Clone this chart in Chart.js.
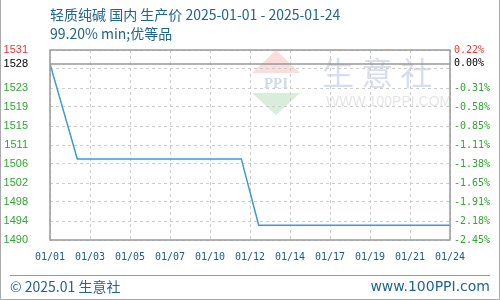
<!DOCTYPE html>
<html>
<head>
<meta charset="utf-8">
<script src="https://cdn.jsdelivr.net/npm/chart.js@4"></script>
<style>
  html, body { margin: 0; padding: 0; background: #fff; }
  #wrap { width: 500px; height: 300px; }
</style>
</head>
<body>
<div id="wrap"><canvas id="priceChart" width="500" height="300"></canvas></div>
<script>
// day of month (Jan 2025) and price
const days = [1, 2.57, 12, 13, 24];
const prices = [1528, 1507.5, 1507.5, 1493.2, 1493.2];
const basePrice = 1528;

const yMin = 1490;
const yMax = 1531;
const leftLabels = ['1490', '1494', '1498', '1502', '1506', '1511', '1515', '1519', '1523', '', '1531'];
const rightLabels = ['-2.45%', '-2.18%', '-1.91%', '-1.65%', '-1.38%', '-1.11%', '-0.85%', '-0.58%', '-0.31%', '', '0.22%'];
const baseLeftLabel = '1528';
const baseRightLabel = '0.00%';

const xMin = 1;
const xMax = 24;
const xLabels = ['01/01', '01/03', '01/05', '01/07', '01/10', '01/12', '01/14', '01/17', '01/19', '01/21', '01/24'];

const titleText = '轻质纯碱 国内 生产价 2025-01-01 - 2025-01-24';
const subTitleText = '99.20% min;优等品';
const footLeft = '© 2025.01 生意社';
const footRight = 'www.100PPI.com';

const GREEN = '#2fa82f';
const RED = '#ff3030';
const BLUE_TXT = '#1f6496';

function yTicks(scale) {
    const step = (yMax - yMin) / (leftLabels.length - 1);
    scale.ticks = leftLabels.map(function (_, i) { return { value: yMin + i * step }; });
    scale.ticks.push({ value: basePrice });
}

function tickColor(c) {
    if (!c.tick) return GREEN;
    if (c.tick.value === basePrice) return '#000';
    if (c.tick.value === yMax) return RED;
    return GREEN;
}

const decor = {
    id: 'decor',
    beforeDraw: function (chart) {
        const ctx = chart.ctx;
        ctx.save();
        ctx.fillStyle = '#fff';
        ctx.fillRect(0, 0, chart.width, chart.height);

        // faint watermark
        ctx.fillStyle = 'rgba(240,160,160,0.35)';
        ctx.beginPath();
        ctx.moveTo(276, 50); ctx.lineTo(300, 73); ctx.lineTo(252, 73);
        ctx.closePath(); ctx.fill();
        ctx.fillStyle = 'rgba(150,200,150,0.35)';
        ctx.beginPath();
        ctx.moveTo(252, 93); ctx.lineTo(300, 93); ctx.lineTo(276, 115);
        ctx.closePath(); ctx.fill();
        ctx.fillStyle = 'rgba(120,150,200,0.35)';
        ctx.font = 'bold 15px "Liberation Serif"';
        ctx.textAlign = 'center';
        ctx.textBaseline = 'middle';
        ctx.fillText('PPI', 276, 84);
        ctx.fillStyle = 'rgba(140,160,200,0.35)';
        ctx.font = '32px "Noto Sans CJK SC"';
        ctx.textAlign = 'left';
        ctx.fillText('生 意 社', 322, 73);
        ctx.fillStyle = 'rgba(170,170,170,0.3)';
        ctx.font = '14px "Liberation Sans"';
        ctx.fillText('WWW.100PPI.COM', 326, 102);
        ctx.restore();
    },
    afterDraw: function (chart) {
        const ctx = chart.ctx;
        const a = chart.chartArea;
        ctx.save();
        ctx.strokeStyle = '#999';
        ctx.lineWidth = 1.5;
        ctx.strokeRect(a.left, a.top, a.right - a.left, a.bottom - a.top);

        ctx.fillStyle = BLUE_TXT;
        ctx.textBaseline = 'middle';
        ctx.textAlign = 'left';
        ctx.font = '14px "Noto Sans CJK SC"';
        ctx.fillText(titleText, 50, 15);
        ctx.fillText(subTitleText, 50, 34);

        ctx.strokeStyle = '#999';
        ctx.lineWidth = 1;
        ctx.beginPath();
        ctx.moveTo(10, 275.5); ctx.lineTo(490, 275.5);
        ctx.stroke();

        ctx.font = '14px "Noto Sans CJK SC"';
        ctx.fillStyle = BLUE_TXT;
        ctx.fillText(footLeft, 10, 287);
        ctx.textAlign = 'right';
        ctx.font = '14px "DejaVu Sans"';
        ctx.fillText(footRight, 490, 287);

        ctx.strokeStyle = '#aaa';
        ctx.beginPath();
        ctx.moveTo(0.5, 0); ctx.lineTo(0.5, 299.5); ctx.lineTo(499.5, 299.5); ctx.lineTo(499.5, 0);
        ctx.stroke();
        ctx.restore();
    }
};

new Chart(document.getElementById('priceChart'), {
    type: 'line',
    data: {
        datasets: [{
            data: days.map(function (d, i) { return { x: d, y: prices[i] }; }),
            borderColor: '#3a9ad9',
            borderWidth: 1.5,
            pointRadius: 0,
            tension: 0,
            yAxisID: 'y',
            order: 0
        }, {
            data: [{ x: xMin, y: basePrice }, { x: xMax, y: basePrice }],
            borderColor: '#999',
            borderWidth: 1.5,
            pointRadius: 0,
            yAxisID: 'y',
            order: 1
        }]
    },
    options: {
        responsive: false,
        animation: false,
        devicePixelRatio: 1,
        layout: { padding: { top: 50, left: 0, right: 0, bottom: 0 } },
        plugins: {
            legend: { display: false },
            tooltip: { enabled: false }
        },
        scales: {
            x: {
                type: 'linear',
                min: xMin,
                max: xMax,
                afterBuildTicks: function (scale) {
                    scale.ticks = xLabels.map(function (_, i) {
                        return { value: xMin + i * (xMax - xMin) / (xLabels.length - 1) };
                    });
                },
                afterFit: function (scale) { scale.height = 60; },
                grid: { color: '#ccc', drawTicks: false },
                border: { display: false, dash: [3, 3] },
                ticks: {
                    autoSkip: false,
                    maxRotation: 0,
                    padding: 11,
                    color: '#1a5a8a',
                    font: { family: 'DejaVu Sans Mono', size: 10 },
                    callback: function (v, i) { return xLabels[i]; }
                }
            },
            y: {
                position: 'left',
                min: yMin,
                max: yMax,
                afterBuildTicks: yTicks,
                afterFit: function (scale) { scale.width = 50; },
                grid: {
                    drawTicks: false,
                    color: function (c) {
                        return c.tick && c.tick.value === basePrice ? 'rgba(0,0,0,0)' : '#ccc';
                    }
                },
                border: { display: false, dash: [3, 3] },
                ticks: {
                    autoSkip: false,
                    padding: 22,
                    color: tickColor,
                    font: { family: 'Liberation Sans', size: 11 },
                    callback: function (v, i) {
                        return v === basePrice ? baseLeftLabel : leftLabels[i];
                    }
                }
            },
            y2: {
                position: 'right',
                min: yMin,
                max: yMax,
                afterBuildTicks: yTicks,
                afterFit: function (scale) { scale.width = 50; },
                grid: { display: false, drawTicks: false },
                border: { display: false },
                ticks: {
                    autoSkip: false,
                    padding: 4,
                    color: tickColor,
                    font: { family: 'DejaVu Sans Mono', size: 10 },
                    callback: function (v, i) {
                        return v === basePrice ? baseRightLabel : rightLabels[i];
                    }
                }
            }
        }
    },
    plugins: [decor]
});
</script>
</body>
</html>
